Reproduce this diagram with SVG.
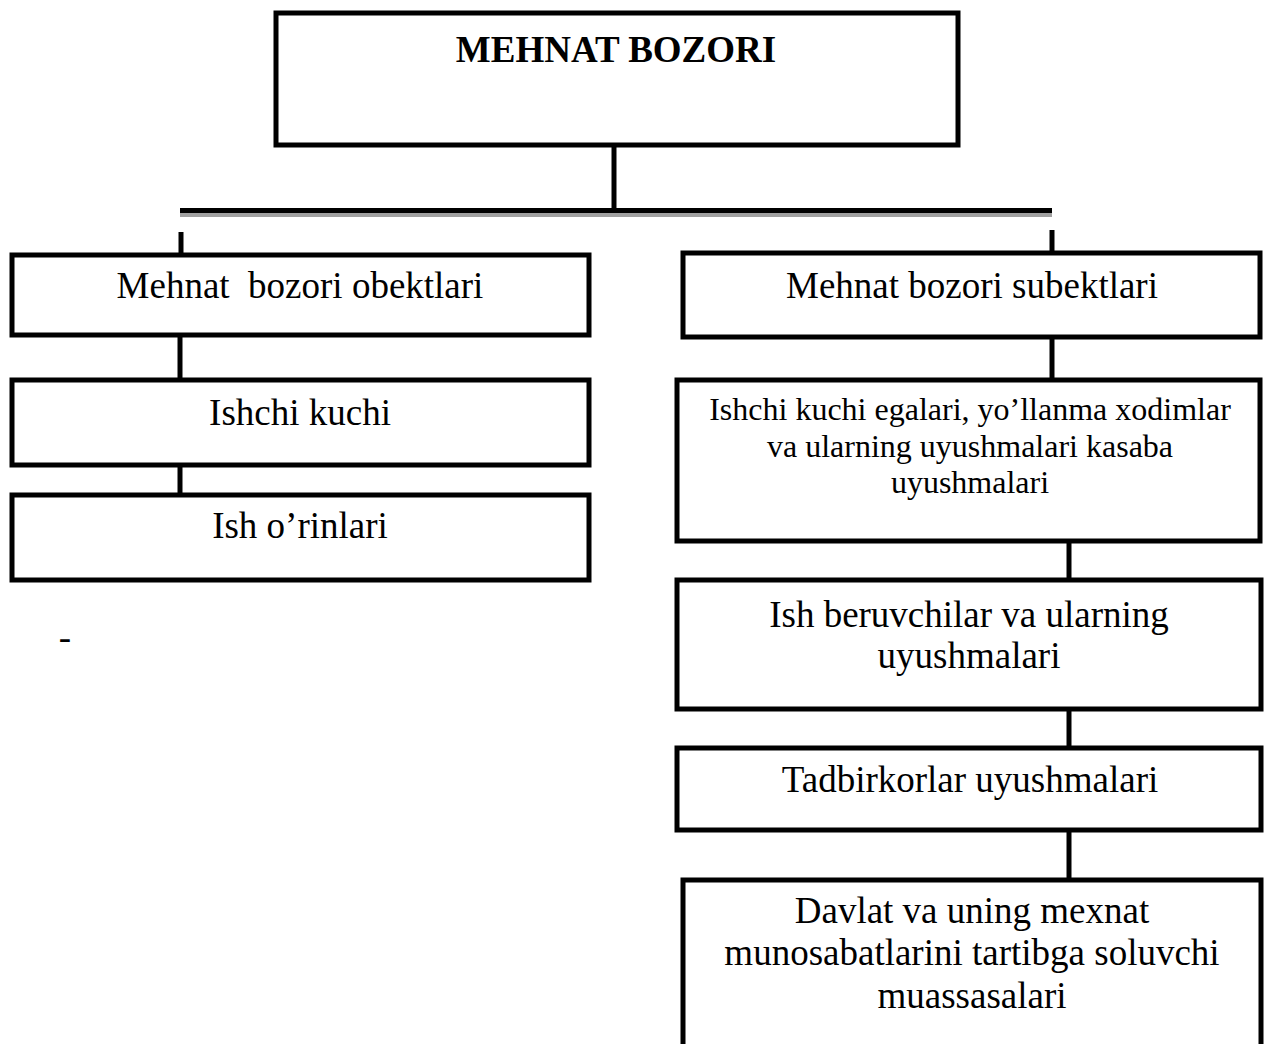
<svg xmlns="http://www.w3.org/2000/svg" width="1268" height="1044" viewBox="0 0 1268 1044">
<style>
.box{fill:#fff;stroke:#000;stroke-width:5}
.ln{stroke:#000;stroke-width:5;fill:none}
.t{font-family:"Liberation Serif","Times New Roman",serif;font-size:37px;fill:#000;text-anchor:middle}
.s{font-size:32px}
.b{font-weight:bold}
</style>
<rect width="1268" height="1044" fill="#fff"/>
<g id="connectors">
<line class="ln" x1="614" y1="145" x2="614" y2="213"/>
<line x1="180" y1="215" x2="1052" y2="215" stroke="#a0a0a0" stroke-width="4"/>
<line class="ln" x1="180" y1="210.5" x2="1052" y2="210.5"/>
<line class="ln" x1="181" y1="232" x2="181" y2="268"/>
<line class="ln" x1="1052" y1="230" x2="1052" y2="270"/>
<line class="ln" x1="180" y1="336" x2="180" y2="378"/>
<line class="ln" x1="180" y1="464" x2="180" y2="495"/>
<line class="ln" x1="1052" y1="338" x2="1052" y2="380"/>
<line class="ln" x1="1069" y1="541" x2="1069" y2="580"/>
<line class="ln" x1="1069" y1="709" x2="1069" y2="748"/>
<line class="ln" x1="1069" y1="830" x2="1069" y2="880"/>
</g>
<g id="mehnat-bozori">
<rect class="box" x="276" y="13" width="682" height="132"/>
<text class="t b" x="616" y="62">MEHNAT BOZORI</text>
</g>
<g id="obektlari">
<rect class="box" x="12" y="255" width="577" height="80"/>
<text class="t" x="300" y="298" xml:space="preserve">Mehnat  bozori obektlari</text>
</g>
<g id="ishchi-kuchi">
<rect class="box" x="12" y="380" width="577" height="85"/>
<text class="t" x="300" y="425">Ishchi kuchi</text>
</g>
<g id="ish-orinlari">
<rect class="box" x="12" y="495" width="577" height="85"/>
<text class="t" x="300" y="538">Ish o’rinlari</text>
</g>
<g id="dash">
<text class="t" x="65" y="650">-</text>
</g>
<g id="subektlari">
<rect class="box" x="683" y="253" width="577" height="84"/>
<text class="t" x="972" y="298">Mehnat bozori subektlari</text>
</g>
<g id="ishchi-kuchi-egalari">
<rect class="box" x="677" y="380" width="583" height="161"/>
<text class="t s" x="970" y="420">Ishchi kuchi egalari, yo’llanma xodimlar</text>
<text class="t s" x="970" y="457">va ularning uyushmalari kasaba</text>
<text class="t s" x="970" y="493">uyushmalari</text>
</g>
<g id="ish-beruvchilar">
<rect class="box" x="677" y="580" width="584" height="129"/>
<text class="t" x="969" y="627">Ish beruvchilar va ularning</text>
<text class="t" x="969" y="668">uyushmalari</text>
</g>
<g id="tadbirkorlar">
<rect class="box" x="677" y="748" width="584" height="82"/>
<text class="t" x="970" y="792">Tadbirkorlar uyushmalari</text>
</g>
<g id="davlat">
<rect class="box" x="683" y="880" width="578" height="170"/>
<text class="t" x="972" y="923">Davlat va uning mexnat</text>
<text class="t" x="972" y="965">munosabatlarini tartibga soluvchi</text>
<text class="t" x="972" y="1008">muassasalari</text>
</g>
</svg>
